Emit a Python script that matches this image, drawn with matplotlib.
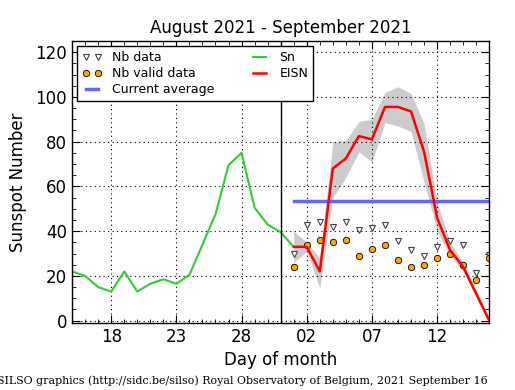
import datetime as dt
import matplotlib
matplotlib.use("Agg")
import matplotlib.pyplot as plt
import matplotlib.dates as mdates
from matplotlib.ticker import MultipleLocator

# daily sunspot number (Sn), Aug 15 - Sep 1
sn_start = dt.date(2021, 8, 15)
sn = [22, 20, 15, 13, 22, 13, 16.5, 18.5, 16.5, 20.5, 34, 47.5, 69.5, 75, 50.5, 43, 39.5, 33]

# estimated ISN and network data, Sep 1 - Sep 16
ei_start = dt.date(2021, 9, 1)
eisn = [33, 33, 22, 68, 72.5, 82.5, 81, 95.5, 95.5, 93.5, 75.5, 46, 31.5, 24, 12, 0]
eisn_low = [26, 31, 14.5, 55, 64, 75.5, 71, 88.5, 87, 84.5, 62, 40, 29, 22, 11, 0]
eisn_high = [40, 35, 28, 80, 80.5, 89, 90, 102, 104.5, 101.5, 88, 53, 35, 26, 14, 1]
nb_data = [30, 42.8, 44.3, 42, 44.3, 40.4, 41.3, 42.9, 35.5, 31.5, 28.9, 33, 35.4, 33.8, 21.1, 29.2]
nb_valid = [24, 33.8, 36, 35.2, 36, 28.8, 32, 33.8, 27.1, 24, 24.9, 27.9, 29.7, 24.9, 18.2, 27.9]
current_avg = 53.6

sn_days = [sn_start + dt.timedelta(days=i) for i in range(len(sn))]
ei_days = [ei_start + dt.timedelta(days=i) for i in range(len(eisn))]

fig = plt.figure(figsize=(5.15, 3.9), dpi=100)
ax = fig.add_axes([0.140, 0.172, 0.810, 0.723])

ax.fill_between(ei_days, eisn_low, eisn_high, color="#cccccc", lw=0)
nb1, = ax.plot(ei_days, nb_data, ls="none", marker="v", ms=4.5, mfc="white",
               mec="#444444", mew=0.8, label="Nb data")
nb2, = ax.plot(ei_days, nb_valid, ls="none", marker="o", ms=4.6, mfc="orange",
               mec="black", mew=0.6, label="Nb valid data")
avg, = ax.plot([ei_days[0], ei_days[-1]], [current_avg, current_avg],
               color="#6666ff", lw=2.5, label="Current average")
snl, = ax.plot(sn_days, sn, color="#33cc33", lw=1.5, label="Sn")
eil, = ax.plot(ei_days, eisn, color="red", lw=1.8, label="EISN")
ax.axvline(dt.date(2021, 8, 31), color="black", lw=1)

ax.set_xlim(dt.date(2021, 8, 15), dt.date(2021, 9, 16))
ax.set_ylim(-1, 125)
ax.xaxis.set_major_locator(mdates.DayLocator(bymonthday=[2, 7, 12, 18, 23, 28]))
ax.xaxis.set_minor_locator(mdates.DayLocator())
ax.xaxis.set_major_formatter(mdates.DateFormatter("%d"))
ax.yaxis.set_major_locator(MultipleLocator(20))
ax.yaxis.set_minor_locator(MultipleLocator(5))
ax.tick_params(which="both", direction="in", top=True, right=True, labelsize=12)
ax.tick_params(which="major", length=6)
ax.tick_params(which="minor", length=3)
ax.grid(True, which="major", color="black", ls=(0, (1, 3)), lw=0.8)
for s in ax.spines.values():
    s.set_linewidth(1)

ax.set_title("August 2021 - September 2021", fontsize=12, pad=6)
ax.set_xlabel("Day of month", fontsize=12)
ax.set_ylabel("Sunspot Number", fontsize=12, labelpad=6)

leg = ax.legend(handles=[nb1, nb2, avg, snl, eil], ncol=2, loc="upper left",
                fontsize=9, numpoints=2, handlelength=1.6, columnspacing=2.8,
                fancybox=False, framealpha=1, edgecolor="black",
                borderaxespad=0.4, labelspacing=0.25)
leg.get_frame().set_linewidth(1)

fig.text(-0.006, 0.015, "SILSO graphics (http://sidc.be/silso) Royal Observatory of Belgium, 2021 September 16",
         family="DejaVu Serif", fontsize=7.9)

fig.savefig("out.png", dpi=100)
